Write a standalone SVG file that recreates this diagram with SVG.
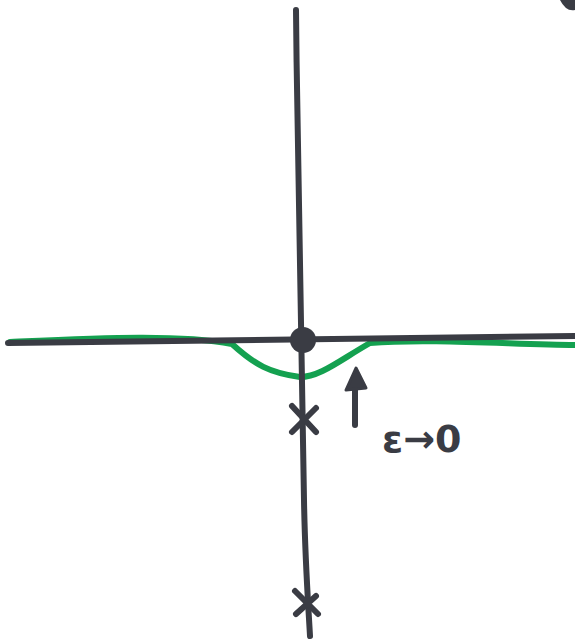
<svg xmlns="http://www.w3.org/2000/svg" width="575" height="640" viewBox="0 0 575 640">
<style>
.ax{fill:none;stroke:#3a3c44;stroke-width:6;stroke-linecap:round;stroke-linejoin:round}
.gr{fill:none;stroke:#14a150;stroke-width:6;stroke-linecap:round;stroke-linejoin:round}
.lbl{font-family:"DejaVu Sans",sans-serif;font-size:38px;font-weight:bold;fill:#3a3c44}
</style>
<rect width="575" height="640" fill="#ffffff"/>
<path d="M560,0 Q566,12 575,10 L575,0 Z" fill="#3a3c44"/>
<g id="connectors">
<path class="gr" d="M10,342 C100,338 180,334 232,344 C255,365 270,373 300,377 C320,377 340,360 370,343 C430,338 520,345 575,345"/>
<path class="ax" d="M8,343 C150,341 300,339 575,336"/>
<path class="ax" d="M296,10 C298,200 302,400 304,500 C305,560 308,600 310,636"/>
<path class="ax" d="M355,425 L355,378"/>
<path d="M346,390 L356,368 L366,388 Z" fill="#3a3c44" stroke="#3a3c44" stroke-width="3" stroke-linejoin="round"/>
</g>
<g id="origin"><circle cx="303" cy="340" r="13" fill="#3a3c44"/></g>
<g id="x1"><path class="ax" d="M292,406 L316,432 M292,432 L316,408"/></g>
<g id="x2"><path class="ax" d="M295,591 L318,614 M296,614 L316,596"/></g>
<g id="label"><text class="lbl" x="382" y="452">ε→0</text></g>
</svg>
